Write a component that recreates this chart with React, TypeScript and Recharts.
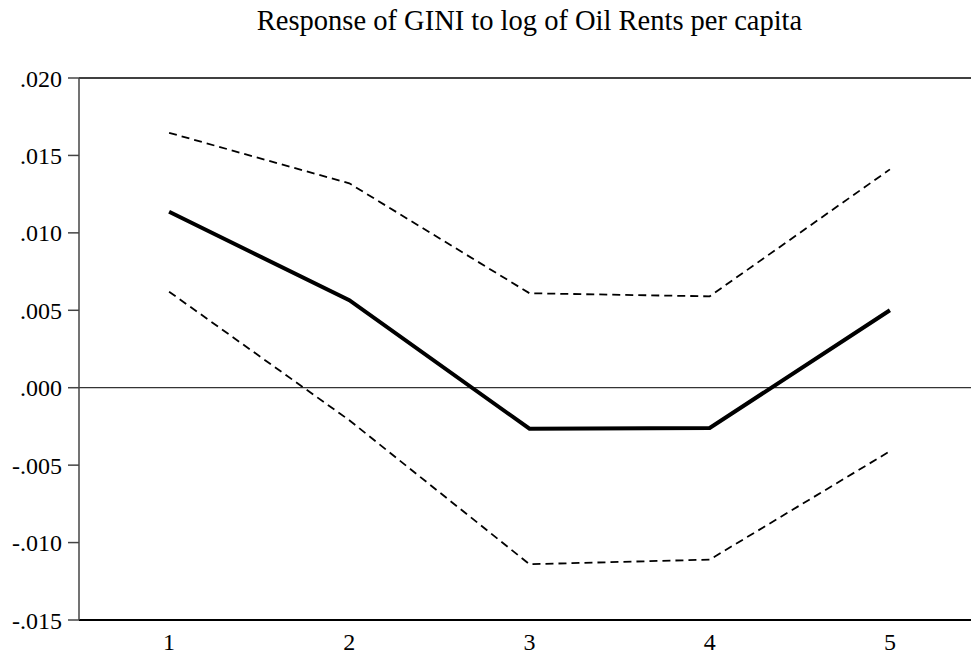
import { LineChart, Line, XAxis, YAxis, ReferenceLine } from "recharts";

const periods = [1, 2, 3, 4, 5];
const response = [0.01136, 0.00565, -0.00265, -0.0026, 0.005];
const upperBand = [0.01646, 0.0132, 0.0061, 0.0059, 0.0141];
const lowerBand = [0.0062, -0.0021, -0.0114, -0.0111, -0.0041];
const yTicks = [-0.015, -0.01, -0.005, 0, 0.005, 0.01, 0.015, 0.02];
const boundaryTicks = [1.5, 2.5, 3.5, 4.5];

const data = periods.map((p, i) => ({
  period: p,
  response: response[i],
  upper: upperBand[i],
  lower: lowerBand[i],
}));

const serif = "'Liberation Serif', 'Times New Roman', serif";
const tickText = { fill: "#000", fontSize: 24, fontFamily: serif };

const fmt = (v: number) => {
  const s = Math.abs(v).toFixed(3).slice(1);
  return v < -1e-9 ? "-" + s : s;
};

export default function App() {
  return (
    <div
      style={{
        position: "absolute",
        left: 0,
        top: 0,
        width: 971,
        height: 659,
        overflow: "hidden",
        background: "#fff",
      }}
    >
      <div
        style={{
          position: "absolute",
          left: 79,
          top: 1,
          width: 901,
          textAlign: "center",
          fontFamily: serif,
          fontSize: 28.5,
          lineHeight: "40px",
          color: "#000",
          whiteSpace: "nowrap",
        }}
      >
        Response of GINI to log of Oil Rents per capita
      </div>
      <LineChart
        width={990}
        height={659}
        data={data}
        margin={{ top: 77, right: 10, bottom: 0, left: 0 }}
        style={{ position: "absolute", left: 0, top: 0 }}
      >
        <XAxis
          xAxisId="bounds"
          dataKey="period"
          type="number"
          domain={[0.5, 5.5]}
          ticks={boundaryTicks}
          interval={0}
          height={1}
          tick={false}
          tickSize={10}
          tickLine={{ stroke: "#444", strokeWidth: 1.5 }}
          axisLine={{ stroke: "#000", strokeWidth: 2 }}
        />
        <XAxis
          xAxisId="labels"
          dataKey="period"
          type="number"
          domain={[0.5, 5.5]}
          ticks={periods}
          interval={0}
          height={38}
          tickSize={0}
          tickMargin={12}
          tickLine={false}
          axisLine={false}
          tick={tickText}
        />
        <XAxis
          xAxisId="top"
          orientation="top"
          dataKey="period"
          type="number"
          domain={[0.5, 5.5]}
          height={1}
          tick={false}
          tickLine={false}
          axisLine={{ stroke: "#000", strokeWidth: 1.5 }}
        />
        <YAxis
          width={79}
          domain={[-0.015, 0.02]}
          ticks={yTicks}
          interval={0}
          tickFormatter={fmt}
          tickSize={11}
          tickMargin={6}
          tick={tickText}
          tickLine={{ stroke: "#444", strokeWidth: 1.5 }}
          axisLine={{ stroke: "#444", strokeWidth: 1.5 }}
        />
        <ReferenceLine xAxisId="labels" y={0} stroke="#000" strokeWidth={1} />
        <Line
          xAxisId="labels"
          dataKey="upper"
          stroke="#000"
          strokeWidth={1.8}
          strokeDasharray="8 5"
          dot={false}
          isAnimationActive={false}
        />
        <Line
          xAxisId="labels"
          dataKey="lower"
          stroke="#000"
          strokeWidth={1.8}
          strokeDasharray="8 5"
          dot={false}
          isAnimationActive={false}
        />
        <Line
          xAxisId="labels"
          dataKey="response"
          stroke="#000"
          strokeWidth={4}
          dot={false}
          isAnimationActive={false}
        />
      </LineChart>
    </div>
  );
}
